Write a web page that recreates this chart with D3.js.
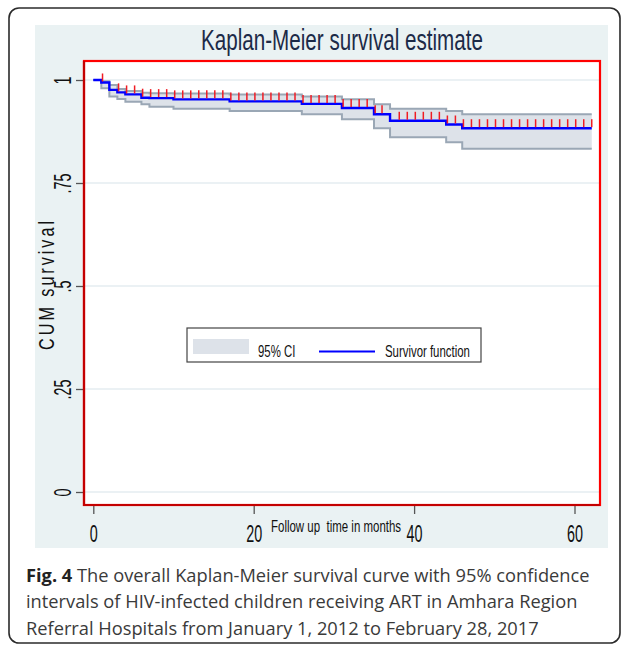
<!doctype html>
<html>
<head>
<meta charset="utf-8">
<title>Kaplan-Meier survival estimate</title>
<script src="https://cdnjs.cloudflare.com/ajax/libs/d3/7.8.5/d3.min.js"></script>
<style>
  body { margin: 0; background: #fff; }
  svg { display: block; }
</style>
</head>
<body>
<div id="chart"></div>
<script>
// step times (months) and the estimates
const stepTimes = [0, 1, 2, 3, 4, 6, 7, 10, 17, 26, 31, 35, 37, 44, 46];
const survival  = [1, 0.994, 0.976, 0.970, 0.965, 0.957, 0.956, 0.953, 0.948, 0.942, 0.932, 0.917, 0.901, 0.892, 0.883];
const upperCI   = [1, 0.997, 0.988, 0.978, 0.973, 0.969, 0.968, 0.967, 0.965, 0.960, 0.953, 0.941, 0.930, 0.925, 0.917];
const lowerCI   = [1, 0.980, 0.960, 0.954, 0.947, 0.941, 0.935, 0.930, 0.925, 0.917, 0.905, 0.883, 0.861, 0.849, 0.833];
const endTime = 62.15;

// censored observations (red tick marks)
const censorTimes = [1.15, 3.15, 4.15, 5.15, 6.15, 7.15, 8.15, 9.15, 10.15, 11.15, 12.15, 13.15,
  14.15, 15.15, 16.15, 17.15, 18.15, 19.15, 20.15, 21.15, 22.15, 23.15, 24.15, 25.15, 26.15,
  27.15, 28.15, 29.15, 30.15, 31.15, 32.15, 33.15, 34.15, 35.15, 36.0, 38.15, 39.15, 40.15,
  41.15, 42.15, 43.15, 44.15, 45.15, 46.15, 47.15, 48.15, 49.15, 50.15, 51.15, 52.15, 53.15,
  54.15, 55.15, 56.15, 57.15, 58.15, 59.15, 60.15, 61.15, 62.15];

const xTicks = [0, 20, 40, 60];
const yTicks = [0, 0.25, 0.5, 0.75, 1];
const yTickLabels = ["0", ".25", ".5", ".75", "1"];

const W = 625, H = 645;
const narrow = "'Liberation Sans', Arial, sans-serif";

const svg = d3.select('#chart').append('svg')
  .attr('width', W)
  .attr('height', H);

// outer figure frame
svg.append('rect')
  .attr('x', 9).attr('y', 8)
  .attr('width', 611).attr('height', 635)
  .attr('rx', 10)
  .attr('fill', 'none')
  .attr('stroke', '#2b2b2b')
  .attr('stroke-width', 1.6);

// stata graph background
svg.append('rect')
  .attr('x', 35).attr('y', 25)
  .attr('width', 573).attr('height', 523)
  .attr('fill', '#eaf2f3');

const plot = { left: 84, right: 600, top: 61, bottom: 505 };

svg.append('rect')
  .attr('x', plot.left).attr('y', plot.top)
  .attr('width', plot.right - plot.left).attr('height', plot.bottom - plot.top)
  .attr('fill', '#fff');

const x = d3.scaleLinear().domain([0, 60]).range([93.3, 574.5]);
const y = d3.scaleLinear().domain([0, 1]).range([492, 80]);

// grid lines
svg.append('g')
  .selectAll('line')
  .data(yTicks)
  .join('line')
  .attr('x1', plot.left).attr('x2', plot.right)
  .attr('y1', d => y(d)).attr('y2', d => y(d))
  .attr('stroke', '#e4edf0')
  .attr('stroke-width', 1.5);

// helper: width of a string in a given font
const measure = function(str, size, extra) {
  const t = svg.append('text')
    .attr('font-family', narrow)
    .attr('font-size', size)
    .style('letter-spacing', extra || 0)
    .text(str);
  const w = t.node().getComputedTextLength();
  t.remove();
  return w;
}

const tickSize = 23;
const kTick = 16 / measure('20', tickSize);

// x axis
const xAxis = svg.append('g')
  .attr('transform', `translate(0,${plot.bottom})`)
  .call(d3.axisBottom(x).tickValues(xTicks).tickSize(9).tickFormat(d3.format('d')));
xAxis.select('.domain').remove();
xAxis.selectAll('line').attr('stroke', '#555').attr('stroke-width', 1.3);
xAxis.selectAll('text')
  .attr('y', 0).attr('dy', 0)
  .attr('fill', '#111')
  .attr('font-family', narrow)
  .attr('font-size', tickSize)
  .attr('transform', `translate(0,37) scale(${kTick},1)`);

// y axis
const yAxis = svg.append('g')
  .attr('transform', `translate(${plot.left},0)`)
  .call(d3.axisLeft(y).tickValues(yTicks).tickSize(8).tickFormat((d, i) => yTickLabels[i]));
yAxis.select('.domain').remove();
yAxis.selectAll('line').attr('stroke', '#555').attr('stroke-width', 1.3);
yAxis.selectAll('text')
  .attr('x', 0).attr('y', 0).attr('dy', 0)
  .attr('text-anchor', 'middle')
  .attr('fill', '#111')
  .attr('font-family', narrow)
  .attr('font-size', tickSize)
  .attr('transform', `translate(-13,0) rotate(-90) scale(${kTick},1)`);

// survival data with end point
const km = stepTimes.map((t, i) => ({ t: t, s: survival[i], lo: lowerCI[i], hi: upperCI[i] }));
km.push(Object.assign({}, km[km.length - 1], { t: endTime }));

const ciArea = d3.area()
  .curve(d3.curveStepAfter)
  .x(d => x(d.t))
  .y0(d => y(d.lo))
  .y1(d => y(d.hi));

const stepLine = key => d3.line()
  .curve(d3.curveStepAfter)
  .x(d => x(d.t))
  .y(d => y(d[key]));

svg.append('path')
  .datum(km)
  .attr('d', ciArea)
  .attr('fill', '#dde2e9');

['lo', 'hi'].forEach(k => {
  svg.append('path')
    .datum(km)
    .attr('d', stepLine(k))
    .attr('fill', 'none')
    .attr('stroke', '#9aa7b5')
    .attr('stroke-width', 2);
});

svg.append('path')
  .datum(km)
  .attr('d', stepLine('s'))
  .attr('fill', 'none')
  .attr('stroke', '#0000ff')
  .attr('stroke-width', 2.4);

// censoring marks
const survAt = t => survival[d3.bisectRight(stepTimes, t) - 1];
svg.append('g')
  .selectAll('line')
  .data(censorTimes)
  .join('line')
  .attr('x1', d => x(d)).attr('x2', d => x(d))
  .attr('y1', d => y(survAt(d)) - 1)
  .attr('y2', d => y(survAt(d)) - 9)
  .attr('stroke', '#f01c24')
  .attr('stroke-width', 1.5);

// plot region border
svg.append('rect')
  .attr('x', plot.left).attr('y', plot.top)
  .attr('width', plot.right - plot.left).attr('height', plot.bottom - plot.top)
  .attr('fill', 'none')
  .attr('stroke', '#ff0000')
  .attr('stroke-width', 2.2);
svg.append('path')
  .attr('d', `M${plot.left},${plot.top}V${plot.bottom}H${plot.right}`)
  .attr('fill', 'none')
  .attr('stroke', '#c40000')
  .attr('stroke-width', 2.2);

// title
const kTitle = 282 / measure('Kaplan-Meier survival estimate', 30);
svg.append('text')
  .attr('transform', `translate(342,49.5) scale(${kTitle},1)`)
  .attr('text-anchor', 'middle')
  .attr('font-family', narrow)
  .attr('font-size', 30)
  .attr('fill', '#1c2a48')
  .text('Kaplan-Meier survival estimate');

// axis titles
const kYT = 132 / measure('CUM survival', 22, '4px');
svg.append('text')
  .attr('transform', `translate(53.5,284) rotate(-90) scale(${kYT},1)`)
  .attr('text-anchor', 'middle')
  .attr('font-family', narrow)
  .attr('font-size', 22)
  .style('letter-spacing', '4px')
  .attr('fill', '#111')
  .text('CUM survival');

const kXT = 127 / measure('Follow up  time in months', 16.5);
svg.append('text')
  .attr('transform', `translate(271,532) scale(${kXT},1)`)
  .attr('font-family', narrow)
  .attr('font-size', 16.5)
  .attr('fill', '#111')
  .style('white-space', 'pre')
  .text('Follow up  time in months');

// legend
const legend = svg.append('g');
legend.append('rect')
  .attr('x', 187).attr('y', 328)
  .attr('width', 294).attr('height', 34)
  .attr('fill', '#fff')
  .attr('stroke', '#444')
  .attr('stroke-width', 1.2);
legend.append('rect')
  .attr('x', 193).attr('y', 339)
  .attr('width', 56).attr('height', 15)
  .attr('fill', '#dde2e9');
legend.append('line')
  .attr('x1', 319).attr('x2', 375)
  .attr('y1', 351.5).attr('y2', 351.5)
  .attr('stroke', '#0000ff')
  .attr('stroke-width', 2);
const kLeg = 85 / measure('Survivor function', 16);
[['95% CI', 258], ['Survivor function', 385]].forEach(([label, lx]) => {
  legend.append('text')
    .attr('transform', `translate(${lx},357) scale(${kLeg},1)`)
    .attr('font-family', narrow)
    .attr('font-size', 16)
    .attr('fill', '#111')
    .text(label);
});

// caption
const captionLines = [
  'The overall Kaplan-Meier survival curve with 95% confidence',
  'intervals of HIV-infected children receiving ART in Amhara Region',
  'Referral Hospitals from January 1, 2012 to February 28, 2017'
];
const capFont = "'Open Sans', 'Noto Sans', sans-serif";
const cap = svg.append('g')
  .attr('font-family', capFont)
  .attr('fill', '#3a3a3a');

const first = cap.append('text').attr('x', 26).attr('y', 581.5).attr('font-size', 18);
first.append('tspan').attr('font-weight', 'bold').attr('fill', '#222').text('Fig. 4');
first.append('tspan').text(' ' + captionLines[0]);
const capSize = 18 * 564 / first.node().getComputedTextLength();
first.attr('font-size', capSize);

[captionLines[1], captionLines[2]].forEach((line, i) => {
  cap.append('text')
    .attr('x', 26)
    .attr('y', 608.3 + i * 26.7)
    .attr('font-size', capSize)
    .text(line);
});
</script>
</body>
</html>
